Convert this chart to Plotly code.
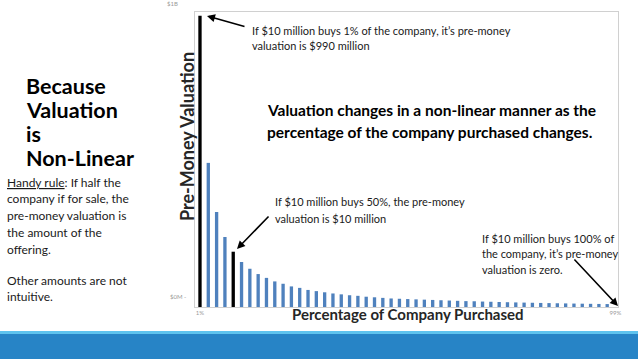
import plotly.graph_objects as go

# Data (pre-money valuation, $M)
positions = list(range(1, 52))
valuations = [990, 490, 323, 238, 188, 153, 130, 112, 99, 87,
              79, 70, 65, 58, 54, 50, 46, 43, 40, 38,
              35, 33, 31, 29, 28, 27, 26, 25, 24, 23,
              22, 21, 20, 19.5, 18.5, 17.8, 17, 16.3, 15.6, 15,
              14.4, 13.8, 13.3, 12.7, 12.2, 11.7, 11.3, 10.8, 10.4, 10, 0]
highlight = [1, 5]
x_tick_vals = [1, 51]
x_tick_text = ["1%", "99%"]

colors = ["#000000" if p in highlight else "#4F81BD" for p in positions]

FONT = "Lato"
fig = go.Figure()
fig.add_trace(go.Bar(x=positions, y=valuations, marker_color=colors,
                     marker_line_width=0, width=0.4, hoverinfo="skip"))

fig.update_layout(
    width=638, height=359,
    margin=dict(l=195, r=20, t=12, b=52),
    paper_bgcolor="white", plot_bgcolor="white",
    showlegend=False,
    font=dict(family=FONT, color="#000000"),
    xaxis=dict(range=[0.4, 51.3], tickvals=x_tick_vals, ticktext=x_tick_text,
               tickfont=dict(size=6, color="#999999"), showgrid=False,
               showline=True, linecolor="#D0D0D0", linewidth=1, mirror=True,
               ticks="", zeroline=False),
    yaxis=dict(range=[0, 1003], showticklabels=False, showgrid=False,
               showline=True, linecolor="#D0D0D0", linewidth=1, mirror=True,
               ticks="", zeroline=False),
    shapes=[
        dict(type="rect", xref="paper", yref="paper", x0=-0.5, x1=1.1,
             y0=-60/295, y1=-25/295, fillcolor="#2784C6", line_width=0, layer="above"),
        dict(type="rect", xref="paper", yref="paper", x0=-0.5, x1=1.1,
             y0=-27/295, y1=-24/295, fillcolor="#5EC3EE", line_width=0, layer="above"),
    ],
)


def px(xp, yp):
    return (xp - 195) / 423.0, (307 - yp) / 295.0


def add_text(xp, yp, text, size, xanchor="left", yanchor="middle", color="#1a1a1a", angle=0):
    x, y = px(xp, yp)
    fig.add_annotation(x=x, y=y, xref="paper", yref="paper", text=text,
                       showarrow=False, xanchor=xanchor, yanchor=yanchor, align="left",
                       textangle=angle, font=dict(size=size, color=color, family=FONT))


def add_lines(xp, y_first, spacing, lines, size, color="#1a1a1a"):
    for i, line in enumerate(lines):
        add_text(xp, y_first + i * spacing, line, size, color=color)


def add_arrow(x0, y0, x1, y1):
    xa, ya = px(x0, y0)
    xb, yb = px(x1, y1)
    fig.add_annotation(x=xb, y=yb, ax=xa, ay=ya, xref="x domain", yref="y domain",
                       axref="x domain", ayref="y domain", text="", showarrow=True,
                       arrowhead=2, arrowsize=1, arrowwidth=1.6, arrowcolor="#000000")


# y tick labels
add_text(172, 4, "$1B", 6, xanchor="center", color="#999999")
add_text(178, 296, "$0M -", 6, xanchor="center", color="#999999")
# axis titles
add_text(187, 137, "<b>Pre-Money Valuation</b>", 18, xanchor="center",
         color="#262626", angle=-90)
add_text(408, 314, "<b>Percentage of Company Purchased</b>", 15, xanchor="center",
         color="#262626")

add_lines(250, 30, 15.5, ["If $10 million buys 1% of the company, it’s pre-money",
                          "valuation is $990 million"], 11)
add_arrow(246, 27, 207, 16)
add_lines(265, 110, 22, ["<b>Valuation changes in a non-linear manner as the</b>",
                         "<b>percentage of the company purchased changes.</b>"], 15.5, color="#000000")
add_lines(273, 201, 17, ["If $10 million buys 50%, the pre-money",
                         "valuation is $10 million"], 11)
add_arrow(270, 215, 237, 249)
add_lines(480, 238, 15.5, ["If $10 million buys 100% of",
                           "the company, it’s pre-money",
                           "valuation is zero."], 11)
add_arrow(573, 258, 618, 306)

add_lines(24, 86, 24, ["<b>Because</b>", "<b>Valuation</b>", "<b>is</b>", "<b>Non-Linear</b>"],
          21.5, color="#000000")
add_lines(5, 182, 16.8, ["<u>Handy rule</u>: If half the", "company if for sale, the",
                         "pre-money valuation is", "the amount of the", "offering."], 12)
add_lines(5, 280, 16.8, ["Other amounts are not", "intuitive."], 12)

fig.write_html("out.html", config={"displayModeBar": False},
               post_script="document.body.style.margin='0';")
